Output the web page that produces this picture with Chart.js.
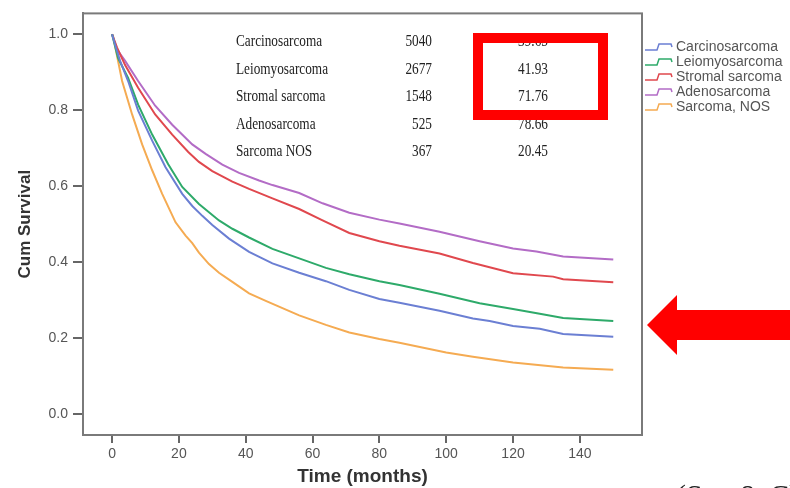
<!DOCTYPE html>
<html>
<head>
<meta charset="utf-8">
<script src="https://cdn.jsdelivr.net/npm/chart.js@4/dist/chart.umd.min.js"></script>
<style>
  html, body { margin: 0; padding: 0; background: #fff; }
  #wrap { width: 790px; height: 488px; }
</style>
</head>
<body>
<div id="wrap"><canvas id="km"></canvas></div>
<script>
// --- DATA ---
const seriesNames = ['Carcinosarcoma', 'Leiomyosarcoma', 'Stromal sarcoma', 'Adenosarcoma', 'Sarcoma, NOS'];
const seriesColors = ['#6b7fd3', '#2eaa6a', '#e0484e', '#b36cc6', '#f5ab52'];

const carcinoTime = [0, 1, 2.4, 4.8, 7.8, 12, 16, 21, 24, 27, 30, 35, 41, 48, 56, 64, 71, 80, 86, 98, 108, 113, 120, 128, 135, 150];
const carcinoSurv = [1.0, 0.97, 0.93, 0.877, 0.799, 0.72, 0.65, 0.58, 0.548, 0.522, 0.498, 0.462, 0.427, 0.397, 0.372, 0.35, 0.327, 0.303, 0.293, 0.272, 0.252, 0.245, 0.232, 0.225, 0.211, 0.204];

const leioTime = [0, 1.8, 4.8, 7.8, 12, 16.8, 21, 26, 32, 36, 41, 48, 56, 64, 71, 80, 86, 98, 110, 120, 128, 135, 150];
const leioSurv = [1.0, 0.937, 0.885, 0.815, 0.736, 0.658, 0.598, 0.553, 0.51, 0.488, 0.465, 0.435, 0.41, 0.385, 0.368, 0.35, 0.34, 0.317, 0.292, 0.277, 0.264, 0.253, 0.245];

const stromalTime = [0, 1.5, 3.9, 7.8, 12.9, 18, 22.8, 26, 30, 36, 41, 48, 56, 63, 71, 80, 86, 98, 108, 120, 132, 135, 150];
const stromalSurv = [1.0, 0.965, 0.919, 0.859, 0.789, 0.736, 0.69, 0.664, 0.64, 0.612, 0.593, 0.568, 0.54, 0.51, 0.477, 0.455, 0.443, 0.423, 0.398, 0.371, 0.362, 0.355, 0.347];

const adenoTime = [0, 1.5, 3.9, 7.8, 12.9, 18, 24, 28, 33, 38, 44, 48, 56, 63, 71, 80, 86, 98, 110, 120, 127, 135, 150];
const adenoSurv = [1.0, 0.96, 0.93, 0.877, 0.812, 0.762, 0.71, 0.685, 0.657, 0.635, 0.615, 0.603, 0.582, 0.555, 0.53, 0.512, 0.502, 0.48, 0.455, 0.436, 0.428, 0.415, 0.407];

const nosTime = [0, 0.3, 3, 6, 9, 12, 15, 19, 22, 24, 26, 29, 32, 36, 41, 46, 56, 64, 71, 80, 86, 100, 108, 120, 135, 150];
const nosSurv = [1.0, 0.995, 0.877, 0.789, 0.71, 0.642, 0.58, 0.505, 0.47, 0.45, 0.425, 0.395, 0.372, 0.348, 0.318, 0.298, 0.26, 0.235, 0.215, 0.198, 0.188, 0.162, 0.151, 0.136, 0.123, 0.117];

const xTicks = [0, 20, 40, 60, 80, 100, 120, 140];
const yTicks = [0, 0.2, 0.4, 0.6, 0.8, 1.0];

// in-plot table
const tableNames = ['Carcinosarcoma', 'Leiomyosarcoma', 'Stromal sarcoma', 'Adenosarcoma', 'Sarcoma NOS'];
const tableCounts = ['5040', '2677', '1548', '525', '367'];
const tableRates = ['39.65', '41.93', '71.76', '78.66', '20.45'];

const times = [carcinoTime, leioTime, stromalTime, adenoTime, nosTime];
const survs = [carcinoSurv, leioSurv, stromalSurv, adenoSurv, nosSurv];

// --- EXTRA DRAWING (frame, table, legend, arrow) ---
function squeezedText(ctx, text, x, y, align) {
    ctx.save();
    ctx.translate(x, y);
    ctx.scale(0.78, 1);
    ctx.textAlign = align;
    ctx.fillText(text, 0, 0);
    ctx.restore();
}

const overlay = {
    id: 'overlay',
    afterDraw(chart) {
        const ctx = chart.ctx;
        const a = chart.chartArea;
        ctx.save();

        // plot frame
        ctx.strokeStyle = '#7a7a7a';
        ctx.lineWidth = 2;
        ctx.strokeRect(a.left, a.top, a.right - a.left, a.bottom - a.top);

        // table text (condensed serif)
        ctx.fillStyle = '#222';
        ctx.font = '17px "Liberation Serif", serif';
        ctx.textBaseline = 'middle';
        const rowY = [42, 70, 97, 125, 152];
        tableNames.forEach((n, i) => {
            squeezedText(ctx, n, 236, rowY[i], 'left');
            squeezedText(ctx, tableCounts[i], 432, rowY[i], 'right');
            squeezedText(ctx, tableRates[i], 533, rowY[i], 'center');
        });

        // red highlight box
        ctx.strokeStyle = '#ff0000';
        ctx.lineWidth = 10;
        ctx.strokeRect(478, 38, 125, 77);

        // legend with step icons
        ctx.lineWidth = 1.5;
        ctx.font = '14px Arial, "Liberation Sans", sans-serif';
        ctx.textAlign = 'left';
        seriesNames.forEach((n, i) => {
            const y = 47 + i * 15;
            ctx.strokeStyle = seriesColors[i];
            ctx.beginPath();
            ctx.moveTo(645, y + 3);
            ctx.lineTo(657, y + 3);
            ctx.lineTo(659, y - 3);
            ctx.lineTo(671, y - 3);
            ctx.lineTo(672, y);
            ctx.stroke();
            ctx.fillStyle = '#555';
            ctx.fillText(n, 676, y);
        });

        // big red arrow
        ctx.fillStyle = '#ff0000';
        ctx.beginPath();
        ctx.moveTo(647, 325);
        ctx.lineTo(677, 295);
        ctx.lineTo(677, 310);
        ctx.lineTo(790, 310);
        ctx.lineTo(790, 340);
        ctx.lineTo(677, 340);
        ctx.lineTo(677, 355);
        ctx.closePath();
        ctx.fill();

        // cut-off caption at the bottom edge
        ctx.fillStyle = '#222';
        ctx.font = '30px "Liberation Serif", serif';
        ctx.textBaseline = 'alphabetic';
        ctx.fillText('(Sen & Ch', 676, 505);

        ctx.restore();
    }
};

const datasets = seriesNames.map((name, i) => ({
    label: name,
    data: times[i].map((t, k) => ({ x: t, y: survs[i][k] })),
    borderColor: seriesColors[i],
    borderWidth: 2,
    pointRadius: 0,
    tension: 0,
    fill: false
}));

const axisFont = { family: 'Arial, "Liberation Sans", sans-serif', size: 14 };

new Chart(document.getElementById('km'), {
    type: 'line',
    data: { datasets: datasets },
    options: {
        responsive: true,
        maintainAspectRatio: false,
        animation: false,
        layout: { padding: { top: 10, right: 148, left: 0, bottom: 0 } },
        plugins: { legend: { display: false }, tooltip: { enabled: false } },
        scales: {
            x: {
                type: 'linear',
                min: -8.7,
                max: 158.6,
                afterBuildTicks: s => { s.ticks = xTicks.map(v => ({ value: v })); },
                afterFit: s => { s.height = 53; },
                grid: { drawOnChartArea: false, drawTicks: true, tickLength: 8, color: '#666', lineWidth: 2 },
                border: { display: true, color: '#7a7a7a', width: 2 },
                ticks: { color: '#555', font: axisFont, padding: 3, maxRotation: 0, callback: v => String(v) },
                title: {
                    display: true, text: 'Time (months)', color: '#333',
                    font: { family: 'Arial, "Liberation Sans", sans-serif', size: 19, weight: 'bold' },
                    padding: { top: 0, bottom: 0 }
                }
            },
            y: {
                type: 'linear',
                min: -0.055,
                max: 1.055,
                afterBuildTicks: s => { s.ticks = yTicks.map(v => ({ value: v })); },
                afterFit: s => { s.width = 83; },
                grid: { drawOnChartArea: false, drawTicks: true, tickLength: 10, color: '#666', lineWidth: 2 },
                border: { display: true, color: '#7a7a7a', width: 2 },
                ticks: { color: '#555', font: axisFont, padding: 5, callback: v => Number(v).toFixed(1) },
                title: {
                    display: true, text: 'Cum Survival', color: '#333',
                    font: { family: 'Arial, "Liberation Sans", sans-serif', size: 17, weight: 'bold' },
                    padding: { top: 15, bottom: 0 }
                }
            }
        }
    },
    plugins: [overlay]
});
</script>
</body>
</html>
